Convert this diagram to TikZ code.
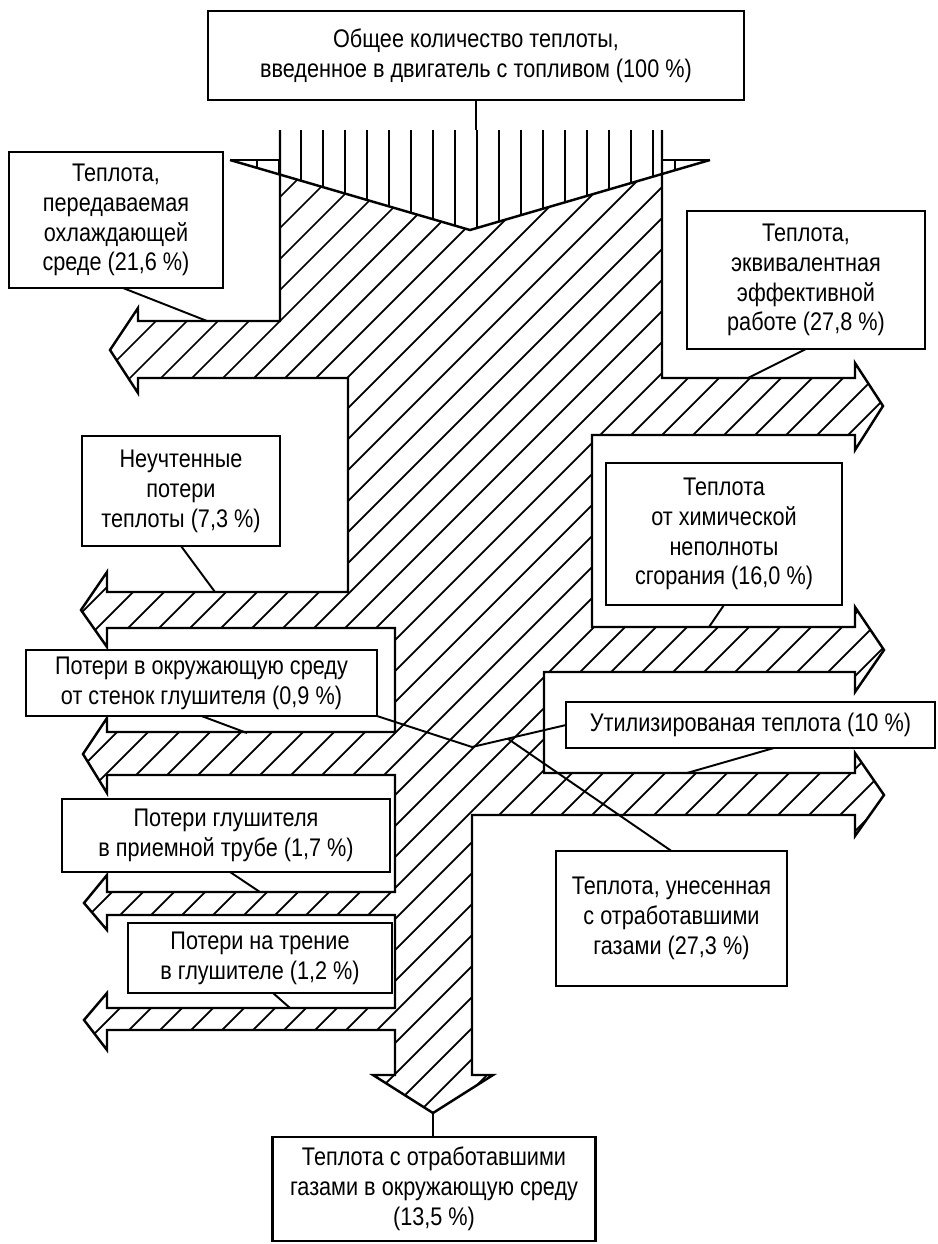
\documentclass[tikz,border=0pt]{standalone}
\usepackage{fontspec}
\setmainfont{Liberation Sans}[FakeStretch=0.85]
\usepackage{tikz}
\usetikzlibrary{calc}
\newcommand{\boxfont}{\fontsize{14.5pt}{17pt}\selectfont}
\tikzset{box/.style={draw,line width=1.3pt,fill=white,inner sep=0pt,outer sep=0pt,align=center,font=\boxfont}}
\tikzset{lead/.style={line width=1.1pt}}
\tikzset{hatch/.style={line width=1pt}}
\tikzset{edge/.style={line width=1.4pt,line join=miter}}
\newcommand{\flowline}{(280,130) -- (280,321) -- (138,321) -- (138,308) -- (110,350) -- (138,393) -- (138,378)
  -- (348,378) -- (348,592) -- (107,592) -- (107,572) -- (81,610) -- (107,647) -- (107,628)
  -- (395,628) -- (395,732) -- (107,732) -- (107,718) -- (83,754) -- (107,793) -- (107,775)
  -- (395,775) -- (395,892) -- (107,892) -- (107,875) -- (84,903) -- (107,930) -- (107,915)
  -- (395,915) -- (395,1008) -- (107,1008) -- (107,993) -- (84,1020) -- (107,1050) -- (107,1030)
  -- (395,1030) -- (395,1075) -- (373,1075) -- (433,1113) -- (493,1075) -- (472,1075)
  -- (472,815) -- (855,815) -- (855,836) -- (884,795) -- (855,753) -- (855,773)
  -- (544,773) -- (544,672) -- (855,672) -- (855,692) -- (884,650) -- (855,607) -- (855,627)
  -- (592,627) -- (592,435) -- (855,435) -- (855,450) -- (883,406) -- (855,363) -- (855,378)
  -- (662,378) -- (662,130)}
\newcommand{\inflow}{(280,130) -- (280,160) -- (230,160) -- (470,230) -- (710,160) -- (662,160) -- (662,130)}

\begin{document}
\begin{tikzpicture}[x=0.02cm,y=-0.02cm]
    \useasboundingbox (0,0) rectangle (937,1244);

    \begin{scope}
        \clip \flowline -- cycle;
        \foreach \c in {0,...,52}
            \draw[hatch] ({415+31*\c},0) -- ({415+31*\c-1300},1300);
    \end{scope}
    \fill[white] \inflow -- cycle;
    \begin{scope}
        \clip \inflow -- cycle;
        \foreach \k in {0,...,19}
            \draw[hatch] ({257+22*\k},100) -- ({257+22*\k},240);
    \end{scope}
    \draw[edge] \flowline;
    \draw[edge] (230,160) -- (470,230) -- (710,160);
    \draw[edge] (230,160) -- (280,160) (662,160) -- (710,160);

    \node[box,minimum width=10.72cm,minimum height=1.78cm] (total)at (476,55.5) {Общее количество теплоты,\\введенное в двигатель с топливом (100 \%)};
    \node[box,minimum width=4.28cm,minimum height=2.72cm] (cool)at (116,220) {Теплота,\\передаваемая\\охлаждающей\\среде (21,6 \%)};
    \node[box,minimum width=4.76cm,minimum height=2.76cm] (work)at (806,280) {Теплота,\\эквивалентная\\эффективной\\работе (27,8 \%)};
    \node[box,minimum width=3.96cm,minimum height=2.2cm] (unacc)at (181,491) {Неучтенные\\потери\\теплоты (7,3 \%)};
    \node[box,minimum width=4.72cm,minimum height=2.84cm] (chem)at (724,534) {Теплота\\от химической\\неполноты\\сгорания (16,0 \%)};
    \node[box,minimum width=7.02cm,minimum height=1.32cm] (wall)at (201.5,683) {Потери в окружающую среду\\от стенок глушителя (0,9 \%)};
    \node[box,minimum width=7.38cm,minimum height=0.92cm] (util)at (750.5,725) {Утилизированая теплота (10 \%)};
    \node[box,minimum width=6.56cm,minimum height=1.46cm] (pipe)at (226,835.5) {Потери глушителя\\в приемной трубе (1,7 \%)};
    \node[box,minimum width=4.62cm,minimum height=2.7cm] (exh)at (671.5,918.5) {Теплота, унесенная\\с отработавшими\\газами (27,3 \%)};
    \node[box,minimum width=5.28cm,minimum height=1.4cm] (fric)at (260,958) {Потери на трение\\в глушителе (1,2 \%)};
    \node[box,minimum width=6.46cm,minimum height=2.08cm] (env)at (434,1189) {Теплота с отработавшими\\газами в окружающую среду\\(13,5 \%)};

    \coordinate (in)at (476,130);
    \coordinate (c1)at (207,321);
    \coordinate (c2)at (748,378);
    \coordinate (c3)at (215,592);
    \coordinate (c4)at (709,627);
    \coordinate (c5)at (247,733);
    \coordinate (j1)at (472,747);
    \coordinate (c6)at (687,773);
    \coordinate (c7)at (260,892);
    \coordinate (c8)at (290,1008);
    \coordinate (tip)at (433,1113);

    \draw [lead] (total.south) to [] (in);
    \draw [lead] ([xshift=0.14cm]cool.south) to [] (c1);
    \draw [lead] (work.south) to [] (c2);
    \draw [lead] (unacc.south) to [] (c3);
    \draw [lead] (chem.south) to [] (c4);
    \draw [lead] (wall.south) to [] (c5);
    \draw [lead] (wall.south east) to [] (j1) to [] (util.west);
    \draw [lead] (exh.north) to [] ($(j1)!0.38!(util.west)$);
    \draw [lead] ([xshift=0.47cm]util.south) to [] (c6);
    \draw [lead] ([xshift=0.08cm]pipe.south) to [] (c7);
    \draw [lead] ([xshift=0.26cm]fric.south) to [] (c8);
    \draw [lead] (tip) to [] (tip |- env.north);
\end{tikzpicture}
\end{document}
